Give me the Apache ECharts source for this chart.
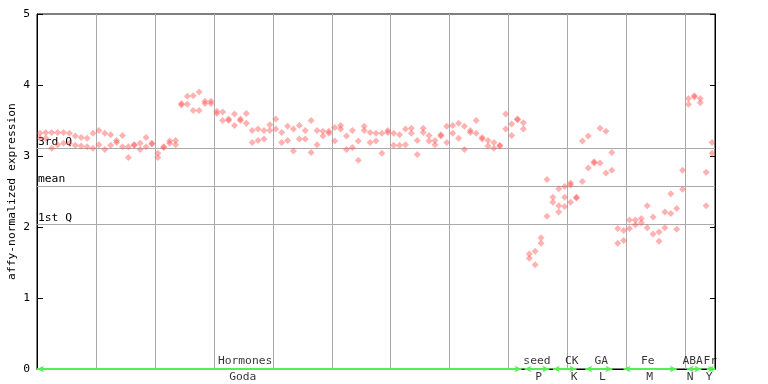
<!DOCTYPE html>
<html><head><meta charset="utf-8">
<script src="https://cdn.jsdelivr.net/npm/echarts@6/dist/echarts.min.js"></script>
<style>html,body{margin:0;padding:0;background:#fff}#c{width:768px;height:384px}</style>
</head><body><div id="c"></div>
<script>
// replicate values per sample column (column k drawn at k + 0.5)
const repA = [3.32,3.33,3.33,3.33,3.33,3.32,3.28,3.26,3.25,3.32,3.36,3.32,3.30,3.22,3.29,3.13,3.16,3.18,3.26,3.18,
  3.04,3.13,3.21,3.22,3.74,3.84,3.85,3.90,3.77,3.77,3.63,3.62,3.52,3.59,3.52,3.60,3.36,3.38,3.36,3.44,
  3.52,3.33,3.42,3.38,3.43,3.36,3.50,3.36,3.35,3.35,3.40,3.43,3.28,3.36,3.21,3.42,3.33,3.32,3.32,3.36,
  3.32,3.30,3.38,3.39,3.22,3.39,3.29,3.22,3.30,3.42,3.43,3.46,3.42,3.36,3.50,3.26,3.22,3.19,3.15,3.59,
  3.45,3.52,3.47,1.62,1.66,1.85,2.67,2.42,2.54,2.57,2.62,2.42,3.21,3.28,2.92,3.39,3.35,3.05,1.98,1.95,
  2.10,2.10,2.12,2.30,2.14,1.93,2.21,2.47,2.26,2.80,3.81,3.85,3.81,2.77,3.19];
const repB = [3.25,3.25,3.11,3.16,3.18,3.18,3.15,3.14,3.13,3.11,3.16,3.09,3.15,3.19,3.13,2.98,3.15,3.09,3.13,3.17,
  2.98,3.12,3.18,3.16,3.72,3.73,3.64,3.64,3.74,3.74,3.60,3.50,3.50,3.43,3.50,3.46,3.19,3.22,3.24,3.36,
  3.38,3.19,3.22,3.07,3.24,3.24,3.05,3.16,3.28,3.32,3.21,3.38,3.09,3.12,2.94,3.36,3.19,3.21,3.04,3.33,
  3.15,3.15,3.16,3.32,3.02,3.33,3.21,3.16,3.28,3.19,3.32,3.25,3.09,3.33,3.32,3.24,3.14,3.11,3.14,3.38,
  3.29,3.51,3.38,1.56,1.47,1.77,2.15,2.35,2.30,2.42,2.59,2.41,2.64,2.83,2.90,2.90,2.76,2.80,1.77,1.81,
  1.98,2.03,2.06,1.99,1.90,1.80,1.99,2.19,1.97,2.53,3.73,3.83,3.75,2.30,3.04];
const repCcols = [88, 89, 90];
const repC = [2.21, 2.29, 2.35];

const refNames = ['3rd Q', 'mean', '1st Q'];
const refValues = [3.108, 2.585, 2.038];

const groupTop = ['Hormones', 'seed', 'CK', 'GA', 'Fe', 'ABA', 'Fr'];
const groupBottom = ['Goda', 'P', 'K', 'L', 'M', 'N', 'Y'];
const spanStart = [0, 82.7, 87.5, 93.0, 99.5, 110.2, 113.6];
const spanEnd = [82.2, 86.9, 91.5, 97.6, 108.5, 112.7, 115];
const topLabelAt = [35.3, 84.8, 90.7, 95.7, 103.6, 111.2, 114.2];
const bottomLabelAt = [34.9, 85.1, 91.1, 95.9, 103.9, 110.8, 114.0];

const yTicks = [0, 1, 2, 3, 4, 5];
const nCols = 115;

const FONT = 'DejaVu Sans Mono';
const pts = [];
repA.forEach((v, k) => pts.push([k + 0.5, v]));
repB.forEach((v, k) => pts.push([k + 0.5, v]));
repC.forEach((v, i) => pts.push([repCcols[i] + 0.5, v]));

const labelSeries = (names, at, pos) => ({
  type: 'scatter', symbol: 'circle', symbolSize: 1, clip: false, z: 6, silent: true,
  itemStyle: {color: 'rgba(0,0,0,0)'},
  data: names.map((n, i) => ({name: n, value: [at[i], 0]})),
  label: {show: true, position: pos, distance: 2, formatter: '{b}', fontFamily: FONT, fontSize: 11.3, color: '#000'},
  labelLayout: {hideOverlap: false}
});

const chart = echarts.init(document.getElementById('c'), null, {renderer: 'canvas'});
const s2 = labelSeries(groupTop, topLabelAt, 'top');
s2.markLine = {
  silent: true, symbol: ['arrow', 'arrow'], symbolSize: [5, 7], precision: 4,
  lineStyle: {color: '#55ee55', width: 2, type: 'solid'},
  label: {show: false},
  data: spanStart.map((s, i) => [{coord: [s, 0]}, {coord: [spanEnd[i], 0]}])
};
chart.setOption({
  animation: false,
  backgroundColor: '#fff',
  grid: {left: 37, right: 53, top: 14, bottom: 15, containLabel: false, outerBoundsMode: 'none',
    show: true, borderColor: '#000', borderWidth: 1, backgroundColor: 'transparent'},
  xAxis: {
    type: 'value', min: 0, max: nCols, interval: 10,
    axisLine: {show: true, lineStyle: {color: '#000'}},
    axisTick: {show: false}, axisLabel: {show: false},
    splitLine: {show: true, lineStyle: {color: '#aaaaaa', width: 1}}
  },
  yAxis: [{
    type: 'value', min: yTicks[0], max: yTicks[yTicks.length - 1], interval: 1,
    name: 'affy-normalized expression', nameLocation: 'middle', nameGap: 19, nameRotate: 90,
    nameMoveOverlap: false,
    nameTextStyle: {fontFamily: FONT, fontSize: 11.3, color: '#000'},
    axisLine: {show: true, lineStyle: {color: '#000'}},
    axisTick: {show: true, inside: true, length: 6, lineStyle: {color: '#000'}},
    axisLabel: {fontFamily: FONT, fontSize: 11.3, color: '#000', margin: 7},
    splitLine: {show: false}
  }, {
    type: 'value', min: yTicks[0], max: yTicks[yTicks.length - 1], interval: 1, position: 'right',
    axisLine: {show: true, lineStyle: {color: '#000'}},
    axisTick: {show: true, inside: true, length: 5, lineStyle: {color: '#000'}},
    axisLabel: {show: false}, splitLine: {show: false}
  }],
  series: [{
    type: 'scatter', symbol: 'diamond', symbolSize: 7,
    itemStyle: {color: 'rgba(255,80,80,0.55)'},
    data: pts,
    z: 5,
    markLine: {
      silent: true, symbol: 'none',
      lineStyle: {color: '#aaaaaa', width: 1, type: 'solid'},
      label: {show: true, position: 'insideStartTop', distance: [1, 1], formatter: '{b}',
        fontFamily: FONT, fontSize: 11.3, color: '#000'},
      data: refNames.map((n, i) => ({name: n, yAxis: refValues[i]}))
    }
  }, s2, labelSeries(groupBottom, bottomLabelAt, 'bottom')]
});
</script></body></html>
